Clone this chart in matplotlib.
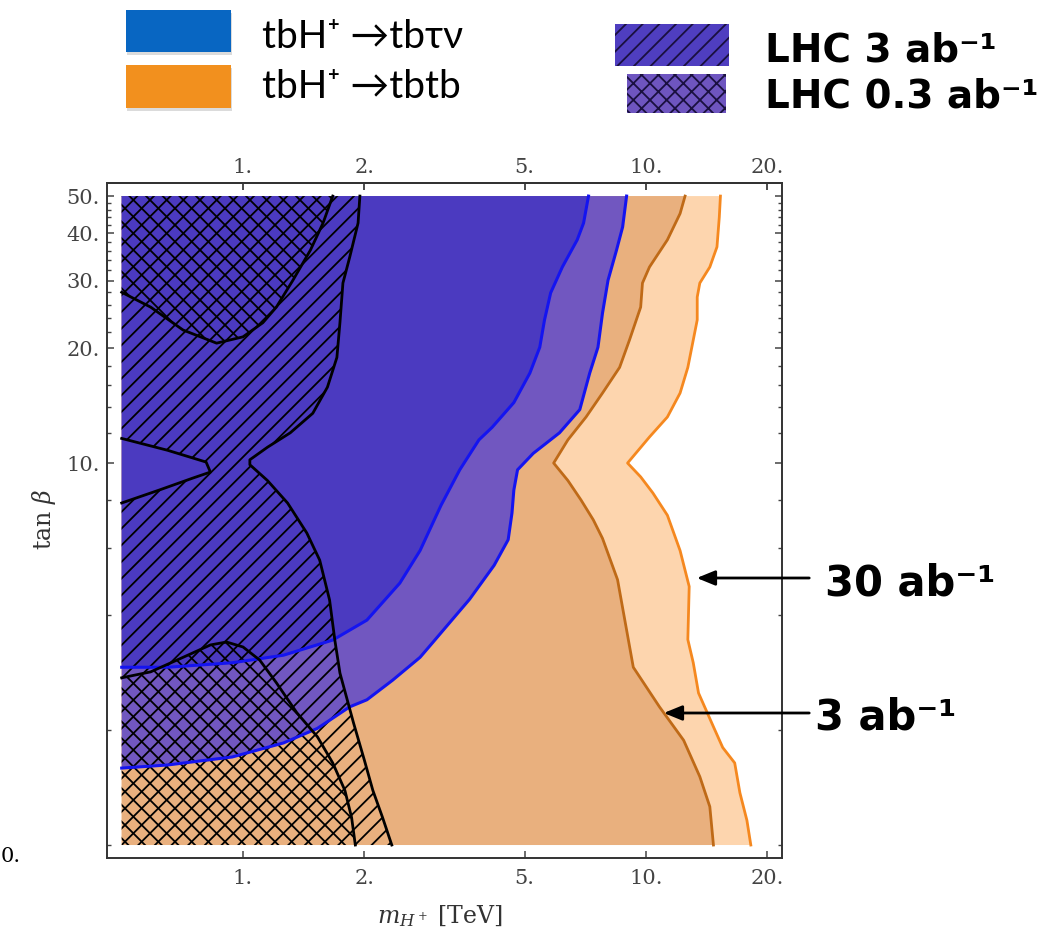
import matplotlib
matplotlib.use('Agg')
import matplotlib.pyplot as plt
from matplotlib.patches import Polygon, Rectangle, FancyArrowPatch
from matplotlib.ticker import NullLocator, FixedLocator

# ---------------- data (m_H+ in TeV, tan beta) ----------------
# tbH+ -> tbtb, 30 ab^-1 (outer orange contour)
m_tb30 = [15.3, 15.2, 15.0, 14.4, 13.6, 13.4, 13.4, 13.1, 12.7, 12.15, 11.3, 10.2, 9.0,
          9.7, 10.4, 11.3, 12.15, 12.8, 12.7, 13.1, 13.5, 14.7, 15.5, 16.6, 17.1, 17.8, 18.2]
t_tb30 = [50, 44, 36.8, 32.6, 29.6, 27.2, 23.7, 21.0, 17.8, 15.25, 13.2, 11.7, 10.0,
          9.2, 8.35, 7.3, 5.9, 4.75, 3.45, 3.0, 2.5, 2.04, 1.8, 1.64, 1.37, 1.16, 1.0]
# tbH+ -> tbtb, 3 ab^-1 (inner orange contour)
m_tb3 = [12.5, 12.15, 11.3, 10.2, 9.8, 9.7, 9.1, 8.6, 7.8, 7.1, 6.4, 5.9,
         6.4, 6.9, 7.4, 7.8, 8.5, 9.3, 10.8, 12.4, 13.6, 14.4, 14.7]
t_tb3 = [50, 45, 38.4, 32.6, 29.6, 25.6, 21.0, 17.8, 15.25, 13.2, 11.5, 10.0,
         9.0, 8.0, 7.1, 6.35, 4.95, 2.92, 2.3, 1.88, 1.51, 1.26, 1.0]
# tbH+ -> tb tau nu, 30 ab^-1 (outer blue contour)
m_tn30 = [8.95, 8.75, 8.45, 8.05, 7.8, 7.6, 7.25, 6.85, 6.1, 5.25, 4.8, 4.7, 4.65, 4.55,
          4.2, 3.65, 2.95, 2.75, 2.35, 2.03, 1.84, 1.53, 1.26, 0.94, 0.65, 0.5]
t_tn30 = [50, 41.5, 36.1, 30.1, 24.7, 20.1, 17.2, 13.8, 12.0, 10.6, 9.6, 8.5, 7.4, 6.3,
          5.4, 4.4, 3.38, 3.1, 2.7, 2.4, 2.3, 2.02, 1.85, 1.7, 1.62, 1.59]
# tbH+ -> tb tau nu, 3 ab^-1 (inner blue contour)
m_tn3 = [7.2, 7.0, 6.75, 6.2, 5.8, 5.6, 5.45, 5.15, 4.7, 4.15, 3.85, 3.45, 3.1,
         2.75, 2.45, 2.03, 1.67, 1.26, 0.94, 0.65, 0.5]
t_tn3 = [50, 42.5, 38.4, 32.6, 27.9, 23.7, 20.1, 17.2, 14.4, 12.4, 11.5, 9.6, 7.75,
         5.9, 4.85, 3.88, 3.44, 3.14, 3.0, 2.92, 2.92]
# LHC 3 ab^-1 exclusion boundary (right edge)
m_lhc3 = [1.95, 1.93, 1.84, 1.77, 1.74, 1.71, 1.62, 1.49, 1.31, 1.15, 1.04, 1.04,
          1.15, 1.29, 1.44, 1.55, 1.64, 1.69, 1.74, 1.88, 2.0, 2.1, 2.22, 2.34]
t_lhc3 = [50, 42.5, 34.6, 29.6, 23.3, 18.9, 15.8, 13.5, 12.0, 11.0, 10.2, 9.9,
          9.0, 7.86, 6.56, 5.57, 4.38, 3.44, 2.82, 2.09, 1.67, 1.39, 1.18, 1.0]
# LHC 3 ab^-1: uncovered notch at the left edge
m_notch = [0.5, 0.65, 0.81, 0.83, 0.75, 0.62, 0.5]
t_notch = [11.6, 10.8, 10.06, 9.47, 9.13, 8.5, 7.86]
# LHC 0.3 ab^-1 exclusion, upper region boundary
m_lhc03a = [0.5, 0.59, 0.71, 0.86, 1.0, 1.12, 1.21, 1.33, 1.47, 1.58, 1.67]
t_lhc03a = [28.0, 25.6, 22.3, 20.6, 21.4, 23.3, 25.6, 30.1, 36.1, 42.5, 50]
# LHC 0.3 ab^-1 exclusion, lower region boundary
m_lhc03b = [0.5, 0.59, 0.71, 0.83, 0.91, 1.0, 1.10, 1.21, 1.36, 1.53, 1.67, 1.79, 1.86, 1.90]
t_lhc03b = [2.74, 2.84, 3.10, 3.34, 3.40, 3.30, 3.05, 2.66, 2.22, 1.92, 1.64, 1.39, 1.18, 1.0]

m_min, m_max = 0.5, 20.0
t_min, t_max = 1.0, 50.0

x_ticks = [1, 2, 5, 10, 20]
x_ticklabels = ['1.', '2.', '5.', '10.', '20.']
y_ticks = [10, 20, 30, 40, 50]
y_ticklabels = ['10.', '20.', '30.', '40.', '50.']
y_minor = [1, 2, 4, 6, 8, 12, 14, 16, 18, 22, 24, 26, 28, 32, 34, 36, 38, 42, 44, 46, 48]

legend_labels = ['tbH\u207a \u2192tb\u03c4\u03bd', 'tbH\u207a \u2192tbtb']
lhc_labels = ['LHC 3 ab\u207b\u00b9', 'LHC 0.3 ab\u207b\u00b9']
lumi_labels = ['30 ab\u207b\u00b9', '3 ab\u207b\u00b9']

# ---------------- style ----------------
C_DPURPLE = '#4B3AC0'
C_LPURPLE = '#7157C0'
C_TAN = '#E9B07E'
C_PEACH = '#FDD5AE'
C_ORANGE_LINE = '#F5881F'
C_BROWN_LINE = '#BF6A17'
C_BLUE_LINE = '#1414F0'
TICK_COL = '#444444'

W, H = 1054, 941
plt.rcParams['hatch.linewidth'] = 1.3
plt.rcParams['mathtext.fontset'] = 'dejavuserif'
fig = plt.figure(figsize=(W / 100, H / 100), dpi=100)


def fx(px):
    return px / W


def fy(py):
    return 1 - py / H


ax = fig.add_axes([fx(107), fy(858), 675 / W, 675 / H])
ax.set_xscale('log')
ax.set_yscale('log')
ax.set_xlim(0.4598, 21.75)
ax.set_ylim(0.9247, 54.1)

# filled regions
ax.fill(m_tb30 + [m_min, m_min], t_tb30 + [t_min, t_max], color=C_PEACH, lw=0, zorder=1)
ax.fill(m_tb3 + [m_min, m_min], t_tb3 + [t_min, t_max], color=C_TAN, lw=0, zorder=2)
ax.fill(m_tn30 + [m_min], t_tn30 + [t_max], color=C_LPURPLE, lw=0, zorder=3)
ax.fill(m_tn3 + [m_min], t_tn3 + [t_max], color=C_DPURPLE, lw=0, zorder=4)

# hatched LHC regions
lhc3_m = m_lhc3 + [m_min] + m_notch[::-1] + [m_min]
lhc3_t = t_lhc3 + [t_min] + t_notch[::-1] + [t_max]
ax.add_patch(Polygon(list(zip(lhc3_m, lhc3_t)), closed=True, facecolor='none',
                     edgecolor='black', lw=0, hatch='//', zorder=5))
ax.add_patch(Polygon(list(zip(m_lhc03a + [m_min], t_lhc03a + [t_max])), closed=True,
                     facecolor='none', edgecolor='black', lw=0, hatch='\\\\', zorder=5))
ax.add_patch(Polygon(list(zip(m_lhc03b + [m_min], t_lhc03b + [t_min])), closed=True,
                     facecolor='none', edgecolor='black', lw=0, hatch='\\\\', zorder=5))

# contour lines
ax.plot(m_tb30, t_tb30, color=C_ORANGE_LINE, lw=2, zorder=6)
ax.plot(m_tb3, t_tb3, color=C_BROWN_LINE, lw=2, zorder=6)
ax.plot(m_tn30, t_tn30, color=C_BLUE_LINE, lw=2.2, zorder=6)
ax.plot(m_tn3, t_tn3, color=C_BLUE_LINE, lw=2.2, zorder=6)
ax.plot(m_lhc3, t_lhc3, color='black', lw=2, zorder=7)
ax.plot(m_notch, t_notch, color='black', lw=2, zorder=7)
ax.plot(m_lhc03a, t_lhc03a, color='black', lw=2, zorder=7)
ax.plot(m_lhc03b, t_lhc03b, color='black', lw=2, zorder=7)

# ticks and frame
ax.xaxis.set_major_locator(FixedLocator(x_ticks))
ax.xaxis.set_minor_locator(NullLocator())
ax.set_xticklabels(x_ticklabels)
ax.yaxis.set_major_locator(FixedLocator(y_ticks))
ax.yaxis.set_minor_locator(FixedLocator(y_minor))
ax.set_yticklabels(y_ticklabels)
ax.tick_params(which='both', direction='in', top=True, right=True, labeltop=False,
               labelbottom=True, labelleft=True, labelright=False, colors=TICK_COL)
ax.tick_params(which='major', length=5, width=1.1)
ax.tick_params(which='minor', length=3, width=1.0, labelleft=False)
ax.tick_params(axis='x', pad=8)
ax.tick_params(axis='y', pad=5)
for lab in ax.get_xticklabels() + ax.get_yticklabels():
    lab.set_family('DejaVu Serif')
    lab.set_fontsize(15)
    lab.set_color(TICK_COL)
for sp in ax.spines.values():
    sp.set_color('#333333')
    sp.set_linewidth(1.4)

# top tick labels
sec = ax.secondary_xaxis('top')
sec.xaxis.set_major_locator(FixedLocator(x_ticks))
sec.xaxis.set_minor_locator(NullLocator())
sec.set_xticklabels(x_ticklabels)
sec.tick_params(direction='in', length=5, width=1.1, pad=4, colors=TICK_COL)
for lab in sec.get_xticklabels():
    lab.set_family('DejaVu Serif')
    lab.set_fontsize(15)
    lab.set_color(TICK_COL)
sec.spines['top'].set_color('#333333')
sec.spines['top'].set_linewidth(1.4)

# axis labels
fig.text(fx(440), fy(916), r'$m_{H^+}$ [TeV]', ha='center', va='center',
         fontsize=17, family='DejaVu Serif', color='#333333')
fig.text(fx(44), fy(520), r'$\tan\,\beta$', ha='center', va='center', rotation=90,
         fontsize=17, family='DejaVu Serif', color='#333333')

# leftover label fragment at the left edge
fig.text(fx(1), fy(857), '0.', ha='left', va='center', fontsize=15,
         family='DejaVu Serif', color='black')

# legend boxes
for (y0, y1), col in zip([(10, 52), (65, 108)], ['#0866C2', '#F2901E']):
    fig.add_artist(Rectangle((fx(127), fy(y1 + 3)), 105 / W, (y1 - y0) / H,
                             transform=fig.transFigure, color='#999999', alpha=0.35, lw=0))
    fig.add_artist(Rectangle((fx(126), fy(y1)), 105 / W, (y1 - y0) / H,
                             transform=fig.transFigure, color=col, lw=0))
for lab, yb in zip(legend_labels, [48, 98]):
    fig.text(fx(262), fy(yb), lab, ha='left', va='baseline', fontsize=28,
             family=['Lato', 'DejaVu Sans'], color='black')

fig.add_artist(Rectangle((fx(615), fy(66)), 114 / W, 42 / H, transform=fig.transFigure,
                         facecolor='#4F3EC0', edgecolor='#1a1040', lw=0, hatch='//'))
fig.add_artist(Rectangle((fx(627), fy(113)), 99 / W, 39 / H, transform=fig.transFigure,
                         facecolor='#6E55C0', edgecolor='#1a1040', lw=0, hatch='xx'))
for lab, yb in zip(lhc_labels, [61, 107]):
    fig.text(fx(765), fy(yb), lab, ha='left', va='baseline', fontsize=28,
             family='DejaVu Sans', weight='bold', color='black')

# luminosity annotations
for lab, (xt, yb), (xa0, xa1, ya) in zip(lumi_labels, [(825, 595), (815, 730)],
                                         [(812, 694, 578), (812, 661, 713)]):
    fig.text(fx(xt), fy(yb), lab, ha='left', va='baseline', fontsize=30,
             family='DejaVu Sans', weight='bold', color='black')
    fig.add_artist(FancyArrowPatch((fx(xa0), fy(ya)), (fx(xa1), fy(ya)),
                                   transform=fig.transFigure,
                                   arrowstyle='-|>,head_length=1.1,head_width=0.45',
                                   mutation_scale=10, lw=2, color='black'))

fig.savefig('out.png', dpi=100)
